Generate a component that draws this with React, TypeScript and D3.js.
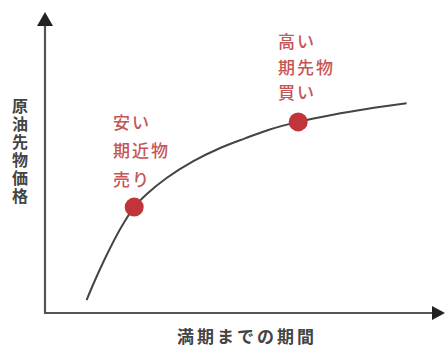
import React from "react";
import * as d3 from "d3";

// Curve: time to maturity vs crude oil futures price (relative units)
const maturity = [10.4, 12.2, 15.3, 18.8, 22.3, 25.6, 30.4, 37.1, 43.8, 50, 56, 63.3, 72, 80.4, 90.4];
const price = [4.3, 10, 19, 28, 35.3, 39.8, 45, 50.6, 55, 58.2, 61.1, 63.7, 66.1, 68, 69.9];

// Highlighted points
const pointMaturity = [22.3, 63.3];
const pointPrice = [35.3, 63.7];
const pointLabels = [
  ["安い", "期近物", "売り"],
  ["高い", "期先物", "買い"],
];

const xAxisLabel = "満期までの期間";
const yAxisLabel = "原油先物価格";

const W = 445;
const H = 347;

export default function App() {
  const x = d3.scaleLinear().domain([0, 100]).range([45, 445]);
  const y = d3.scaleLinear().domain([0, 100]).range([313, 13]);

  const line = d3
    .line<number>()
    .x((_, i) => x(maturity[i]))
    .y((d) => y(d))
    .curve(d3.curveCatmullRom.alpha(0.5));

  const font = "'Noto Sans CJK JP', 'Noto Sans', sans-serif";
  const labelPos = [
    { x: 113, ys: [121, 149, 178] },
    { x: 278, ys: [40, 66, 91] },
  ];

  const x0 = x(0);
  const y0 = y(0);
  const yTop = y(100);
  const xEnd = x(100);

  return (
    <svg
      width={W}
      height={H}
      style={{ position: "absolute", left: 0, top: 0, background: "#fff" }}
    >
      {/* axes */}
      <line x1={x0} y1={y0} x2={x0} y2={yTop + 12} stroke="#555" strokeWidth={2.2} />
      <path d={`M${x0},${yTop - 1} L${x0 - 8},${yTop + 13} L${x0 + 8},${yTop + 13} Z`} fill="#222" />
      <line x1={x0 - 1} y1={y0} x2={xEnd - 12} y2={y0} stroke="#555" strokeWidth={2.2} />
      <path d={`M${xEnd},${y0} L${xEnd - 13},${y0 - 7} L${xEnd - 13},${y0 + 7} Z`} fill="#222" />

      {/* curve */}
      <path d={line(price) || ""} fill="none" stroke="#444" strokeWidth={2} />

      {/* points */}
      {pointMaturity.map((m, i) => (
        <circle key={i} cx={x(m)} cy={y(pointPrice[i])} r={9.5} fill="#c0343a" />
      ))}

      {/* point labels */}
      {pointLabels.map((lines, i) =>
        lines.map((t, j) => (
          <text
            key={`${i}-${j}`}
            x={labelPos[i].x}
            y={labelPos[i].ys[j]}
            dominantBaseline="central"
            fontFamily={font}
            fontSize={17}
            fontWeight={500}
            letterSpacing={2}
            fill="#c65555"
          >
            {t}
          </text>
        ))
      )}

      {/* y axis label (vertical) */}
      <text
        x={20}
        y={98}
        style={{ writingMode: "vertical-rl" }}
        fontFamily={font}
        fontSize={16}
        fontWeight={700}
        letterSpacing={2}
        fill="#444"
      >
        {yAxisLabel}
      </text>

      {/* x axis label */}
      <text
        x={247}
        y={335}
        textAnchor="middle"
        dominantBaseline="central"
        fontFamily={font}
        fontSize={17}
        fontWeight={700}
        letterSpacing={3}
        fill="#444"
      >
        {xAxisLabel}
      </text>
    </svg>
  );
}
